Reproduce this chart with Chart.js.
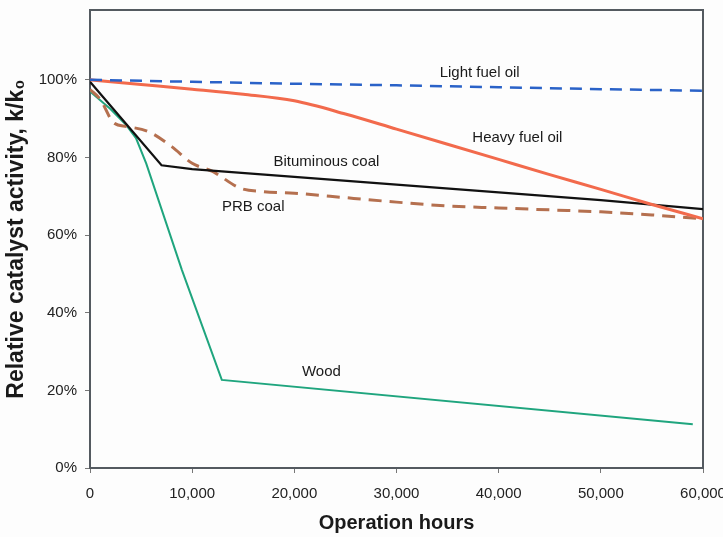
<!DOCTYPE html>
<html>
<head>
<meta charset="utf-8">
<script src="https://cdn.jsdelivr.net/npm/chart.js@4"></script>
<style>
    html, body { margin: 0; padding: 0; background: #fdfdfd; }
    #wrap { width: 723px; height: 537px; overflow: hidden; }
</style>
</head>
<body>
<div id="wrap"><canvas id="chart" width="723" height="537"></canvas></div>
<script>
// Data (hours, % activity)
const lightHours  = [0, 10000, 20000, 30000, 40000, 50000, 60000];
const lightValues = [100, 99.5, 99, 98.6, 98.1, 97.6, 97.2];

const heavyHours  = [0, 5000, 10000, 15000, 20000, 25000, 30000, 35000, 40000, 45000, 50000, 55000, 60000];
const heavyValues = [100, 98.8, 97.6, 96.3, 94.6, 91.2, 87.3, 83.4, 79.5, 75.6, 71.8, 67.9, 64.2];

const bitHours  = [0, 7000, 10000, 20000, 30000, 40000, 50000, 60000];
const bitValues = [99.5, 78, 77, 75, 73, 71, 69, 66.7];

const prbHours  = [0, 1000, 2300, 3600, 5700, 8000, 10000, 12000, 14700, 17000, 20000, 23500, 30000, 35000, 40000, 45000, 50000, 55000, 60000];
const prbValues = [97.5, 95, 89, 88, 86.7, 82.8, 78.5, 76.4, 72.1, 71.2, 70.8, 70, 68.5, 67.5, 67, 66.5, 66, 65.2, 64.2];

const woodHours  = [0, 2000, 3500, 4500, 5500, 9000, 12900, 59000];
const woodValues = [97, 92.5, 88.5, 85, 78.5, 51, 22.7, 11.3];

const yTicks = [0, 20, 40, 60, 80, 100];

// Inline series names, anchored in data units
const seriesLabels = [
    { text: 'Light fuel oil',   x: 38140, y: 101.8 },
    { text: 'Heavy fuel oil',   x: 41830, y: 85.05 },
    { text: 'Bituminous coal',  x: 23140, y: 78.9 },
    { text: 'PRB coal',         x: 15980, y: 67.35 },
    { text: 'Wood',             x: 22650, y: 24.7 }
];

const FONT = '"Liberation Sans", Arial, sans-serif';
const pts = (xs, ys) => xs.map((x, i) => ({ x: x, y: ys[i] }));

// Frame + labels
const framePlugin = {
    id: 'frame',
    beforeDatasetsDraw(chart) {
        const { ctx, chartArea: a } = chart;
        ctx.save();
        ctx.strokeStyle = '#545a60';
        ctx.lineWidth = 2;
        ctx.strokeRect(a.left, a.top, a.right - a.left, a.bottom - a.top);
        ctx.restore();
    },
    afterDatasetsDraw(chart) {
        const { ctx, scales } = chart;
        ctx.save();
        ctx.font = '15px ' + FONT;
        ctx.fillStyle = '#1a1a1a';
        ctx.textAlign = 'center';
        ctx.textBaseline = 'middle';
        seriesLabels.forEach(l => {
            ctx.fillText(l.text, scales.x.getPixelForValue(l.x), scales.y.getPixelForValue(l.y));
        });
        ctx.restore();
    }
};

new Chart(document.getElementById('chart'), {
    type: 'line',
    data: {
        datasets: [
            { label: 'Light fuel oil', data: pts(lightHours, lightValues), borderColor: '#2a62c8', borderWidth: 2.5, borderDash: [12, 8] },
            { label: 'Heavy fuel oil', data: pts(heavyHours, heavyValues), borderColor: '#f26a4c', borderWidth: 3, cubicInterpolationMode: 'monotone' },
            { label: 'Bituminous coal', data: pts(bitHours, bitValues), borderColor: '#111111', borderWidth: 2.2 },
            { label: 'PRB coal', data: pts(prbHours, prbValues), borderColor: '#b5704f', borderWidth: 3, borderDash: [13, 8], cubicInterpolationMode: 'monotone' },
            { label: 'Wood', data: pts(woodHours, woodValues), borderColor: '#1fa57e', borderWidth: 2 }
        ]
    },
    options: {
        responsive: false,
        animation: false,
        layout: { padding: { top: 10, right: 20, bottom: 0, left: 0 } },
        elements: { point: { radius: 0 }, line: { tension: 0 } },
        plugins: { legend: { display: false }, tooltip: { enabled: false } },
        scales: {
            x: {
                type: 'linear',
                min: 0, max: 60000,
                grid: { drawOnChartArea: false, tickLength: 5, color: '#777' },
                border: { display: false },
                ticks: {
                    stepSize: 10000, padding: 12, maxRotation: 0,
                    color: '#222',
                    font: { family: FONT, size: 15 },
                    callback: v => v.toLocaleString('en-US')
                },
                title: {
                    display: true, text: 'Operation hours', color: '#1a1a1a',
                    font: { family: FONT, size: 20, weight: 'bold' },
                    padding: { top: 2, bottom: 2 }
                },
                afterFit(scale) {
                    scale.height = 69;
                    scale.paddingLeft = 0;
                    scale.paddingRight = 0;
                }
            },
            y: {
                min: 0, max: 118,
                grid: { drawOnChartArea: false, tickLength: 5, color: '#777' },
                border: { display: false },
                afterBuildTicks(scale) {
                    scale.ticks = yTicks.map(v => ({ value: v }));
                },
                ticks: {
                    padding: 8,
                    color: '#222',
                    font: { family: FONT, size: 15 },
                    callback: v => v + '%'
                },
                title: {
                    display: true, text: 'Relative catalyst activity, k/k\u2080', color: '#1a1a1a',
                    font: { family: FONT, size: 23, weight: 'bold' },
                    padding: { top: 3, bottom: 0 }
                },
                afterFit(scale) {
                    scale.width = 90;
                    scale.paddingTop = 0;
                    scale.paddingBottom = 0;
                }
            }
        }
    },
    plugins: [framePlugin]
});
</script>
</body>
</html>
